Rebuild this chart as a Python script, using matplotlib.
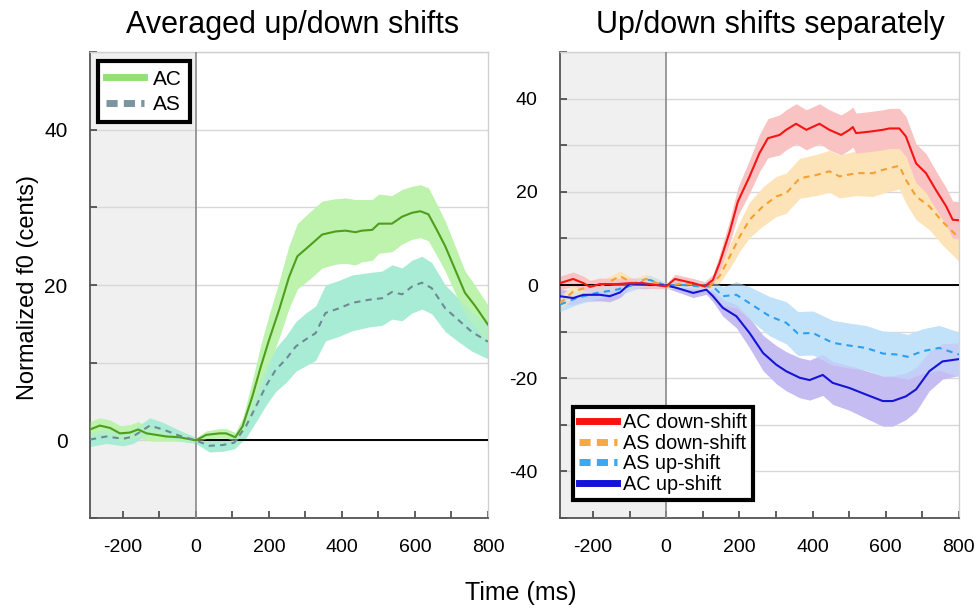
import numpy as np
import matplotlib
matplotlib.use("Agg")
import matplotlib.pyplot as plt
from matplotlib.ticker import MultipleLocator

plt.rcParams['font.family'] = ['Liberation Sans', 'DejaVu Sans']
plt.rcParams['axes.unicode_minus'] = False

# ---- left panel: averaged up/down shifts ----
t_ac = [-290, -263, -235, -208, -181, -158, -135, -108, -81, -45, 0, 28, 65, 83, 108,
        128, 155, 178, 201, 228, 255, 278, 310, 346, 383, 410, 437, 455, 483, 501,
        537, 565, 592, 615, 637, 660, 683, 710, 737, 765, 800]
ac = [1.4, 1.9, 1.6, 0.9, 1.0, 1.4, 0.9, 0.7, 0.5, 0.4, 0.0, 0.7, 0.9, 0.9, 0.4,
      1.8, 5.7, 9.5, 13.0, 16.8, 21.0, 23.7, 25.0, 26.5, 26.9, 27.0, 26.8, 27.0, 27.1, 27.9,
      27.9, 28.8, 29.3, 29.5, 29.1, 27.1, 25.0, 22.0, 19.0, 17.3, 14.9]
ac_err = [1.0, 1.0, 1.0, 1.0, 1.0, 1.0, 0.9, 0.8, 0.6, 0.5, 0.3, 0.5, 0.6, 0.6, 0.6,
          1.0, 2.0, 2.8, 3.2, 3.6, 4.0, 4.2, 4.3, 4.3, 4.2, 4.2, 4.2, 4.0, 3.9, 3.8,
          3.6, 3.5, 3.4, 3.4, 3.4, 3.3, 3.2, 3.0, 2.8, 2.6, 2.5]

t_as = [-290, -245, -199, -172, -126, -90, -45, 0, 37, 74, 105, 137, 165, 192, 219,
        246, 274, 301, 328, 355, 392, 428, 474, 510, 537, 565, 592, 619, 646, 683,
        719, 755, 800]
as_ = [0.1, 0.5, 0.2, 0.5, 1.9, 1.4, 0.6, 0.0, -0.7, -0.6, -0.3, 1.8, 4.4, 7.0, 9.1,
       10.4, 12.1, 13.0, 13.8, 16.4, 17.0, 17.7, 18.1, 18.3, 19.1, 18.8, 19.8, 20.3, 19.6, 17.0,
       15.5, 14.0, 12.7]
as_err = [0.9, 0.9, 0.9, 0.9, 1.0, 0.9, 0.7, 0.4, 0.8, 0.8, 0.8, 1.5, 2.0, 2.5, 2.8,
          3.0, 3.2, 3.4, 3.5, 3.6, 3.6, 3.6, 3.5, 3.5, 3.5, 3.4, 3.4, 3.4, 3.3, 3.0,
          2.8, 2.5, 2.2]

# ---- right panel: up/down shifts separately ----
t_acd = [-290, -254, -226, -208, -181, -135, -99, -63, -26, 0, 24, 46, 74, 105, 128,
         146, 174, 196, 228, 255, 278, 310, 328, 355, 383, 419, 446, 478, 501, 510,
         519, 555, 592, 610, 637, 655, 683, 710, 737, 765, 783, 800]
acd = [0.4, 1.3, 0.4, -0.4, 0.2, 0.2, 0.4, 0.4, 0.0, -0.3, 1.3, 0.9, 0.4, -0.3, 1.1,
       4.7, 11.5, 17.9, 23.3, 28.3, 31.5, 32.2, 33.3, 34.6, 33.3, 34.6, 33.3, 32.2, 33.3, 33.9,
       32.6, 32.9, 33.3, 33.6, 33.6, 31.9, 26.1, 24.0, 20.4, 16.9, 14.0, 13.9]
acd_err = [1.5, 1.5, 1.5, 1.4, 1.3, 1.2, 1.1, 1.0, 0.8, 0.5, 1.0, 1.0, 1.0, 1.0, 1.2,
           1.8, 2.5, 3.0, 3.6, 4.0, 4.2, 4.3, 4.3, 4.3, 4.3, 4.3, 4.3, 4.3, 4.3, 4.3,
           4.3, 4.3, 4.3, 4.3, 4.3, 4.3, 4.2, 4.2, 4.1, 4.0, 4.0, 4.0]

t_asd = [-290, -254, -208, -172, -126, -90, -54, 0, 46, 83, 119, 146, 174, 201, 228,
         265, 301, 328, 365, 410, 446, 474, 519, 565, 592, 637, 655, 683, 719, 755, 800]
asd = [-3.9, -1.4, -0.3, 0.0, 1.9, 0.4, 1.3, -0.3, 0.4, 0.0, -0.3, 1.9, 6.1, 10.4, 14.0,
       16.9, 19.0, 19.7, 22.9, 23.6, 24.4, 23.3, 24.0, 24.0, 24.7, 25.6, 22.6, 19.0, 16.9, 13.6, 10.1]
asd_err = [1.5, 1.4, 1.3, 1.2, 1.1, 1.0, 1.0, 0.6, 0.8, 0.8, 0.9, 1.5, 2.5, 3.2, 3.8,
           4.2, 4.3, 4.3, 4.3, 4.4, 4.5, 4.6, 4.8, 5.0, 5.0, 5.0, 5.0, 5.0, 5.0, 5.0, 5.0]

t_asu = [-290, -245, -190, -135, -90, -45, 0, 46, 92, 128, 155, 192, 228, 283, 328,
         360, 401, 455, 501, 546, 592, 628, 660, 701, 746, 800]
asu = [-4.2, -2.8, -1.7, -1.0, 0.0, 1.1, -0.1, 0.0, -0.3, -0.3, -2.4, -2.1, -3.9, -6.7, -8.1,
       -10.4, -10.3, -12.4, -13.0, -13.5, -14.7, -14.9, -15.4, -14.2, -13.5, -14.9]
asu_err = [1.5, 1.4, 1.3, 1.2, 1.1, 1.0, 0.6, 0.8, 0.9, 1.2, 2.0, 2.8, 3.5, 4.2, 4.5,
           4.7, 4.7, 4.8, 4.8, 4.8, 4.8, 4.8, 4.8, 4.8, 4.8, 4.8]

t_acu = [-290, -254, -226, -181, -154, -126, -99, -54, -26, 0, 28, 74, 110, 128, 155,
         192, 228, 265, 301, 328, 365, 392, 428, 455, 501, 546, 592, 619, 655, 683,
         719, 755, 800]
acu = [-2.4, -2.8, -2.1, -2.1, -2.4, -1.6, 0.3, 0.1, 0.0, -0.1, -0.6, -1.7, -1.0, -2.4, -4.9,
       -6.7, -10.3, -14.6, -17.1, -18.5, -19.9, -20.4, -19.3, -21.0, -22.1, -23.5, -24.9, -24.9, -23.9, -22.4,
       -18.5, -16.4, -15.9]
acu_err = [1.5, 1.5, 1.4, 1.3, 1.2, 1.1, 1.0, 0.9, 0.7, 0.5, 0.8, 1.0, 1.0, 1.2, 1.8,
           2.5, 3.2, 3.8, 4.1, 4.2, 4.3, 4.3, 4.4, 4.6, 4.8, 5.1, 5.4, 5.4, 5.0, 4.7,
           4.2, 3.8, 3.5]


def band(ax, t, y, err, line_col, band_col, ls='-', lw=1.5):
    t = np.array(t)
    y = np.array(y)
    err = np.array(err)
    ax.fill_between(t, y - err, y + err, color=band_col, lw=0, zorder=2)
    ax.plot(t, y, color=line_col, ls=ls, lw=lw, zorder=4,
            dashes=(3, 2.5) if ls == '--' else (None, None))


def style(ax, ylim, ylab_size):
    ax.set_xlim(-290, 800)
    ax.set_ylim(*ylim)
    ax.axvspan(-290, 0, color='#f0f0f0', lw=0, zorder=0)
    ax.axvline(0, color='#8a8a8a', lw=1.2, zorder=3)
    ax.xaxis.set_major_locator(MultipleLocator(200))
    ax.xaxis.set_minor_locator(MultipleLocator(100))
    ax.yaxis.set_major_locator(MultipleLocator(20))
    ax.yaxis.set_minor_locator(MultipleLocator(10))
    ax.grid(True, which='both', axis='y', color='#d8d8d8', lw=1.0, zorder=1)
    ax.set_axisbelow(True)
    ax.tick_params(which='both', direction='in', length=5, width=1.2,
                   color='#444444', top=False, right=False)
    ax.tick_params(axis='x', pad=15, labelsize=14)
    ax.tick_params(axis='y', pad=16, labelsize=ylab_size)
    for s in ['left', 'bottom']:
        ax.spines[s].set_color('#555555')
        ax.spines[s].set_linewidth(1.3)
    for s in ['top', 'right']:
        ax.spines[s].set_color('#d0d0d0')
        ax.spines[s].set_linewidth(1.0)


fig = plt.figure(figsize=(9.8, 6.09), dpi=100)
ax1 = fig.add_axes([0.0918, 0.1494, 0.4061, 0.7652])
ax2 = fig.add_axes([0.5714, 0.1494, 0.4071, 0.7652])

# left
style(ax1, (-10, 50), 15)
ax1.plot([0, 800], [0, 0], color='black', lw=1.4, zorder=3)
band(ax1, t_ac, ac, ac_err, '#4e9e1c', '#bdf3ad')
band(ax1, t_as, as_, as_err, '#6e8993', '#a9ecd6', ls='--')
# blend overlap of the two bands
ax1.fill_between(np.array(t_ac), np.array(ac) - np.array(ac_err), np.array(ac) + np.array(ac_err),
                 color='#bdf3ad', alpha=0.45, lw=0, zorder=3)
h1 = [plt.Line2D([], [], color='#92e078', lw=5),
      plt.Line2D([], [], color='#7b959f', lw=5, ls='--', dashes=(1.6, 0.9))]
leg1 = ax1.legend(h1, ['AC', 'AS'], loc='upper left', bbox_to_anchor=(0.02, 0.98),
                  borderaxespad=0, fancybox=False, framealpha=1, edgecolor='black',
                  fontsize=15, handlelength=1.8, handletextpad=0.45,
                  labelspacing=0.3, borderpad=0.4)
leg1.get_frame().set_linewidth(3)
leg1.set_zorder(10)

# right
style(ax2, (-50, 50), 14)
ax2.axhline(0, color='black', lw=1.4, zorder=3)
band(ax2, t_asu, asu, asu_err, '#2b9ff0', '#c2e2fa', ls='--')
band(ax2, t_acu, acu, acu_err, '#1414d8', '#c5bdf2')
band(ax2, t_asd, asd, asd_err, '#f5a030', '#fce3b8', ls='--')
band(ax2, t_acd, acd, acd_err, '#f41414', '#f9c3c3')
ax2.fill_between(np.array(t_asu), np.array(asu) - np.array(asu_err), np.array(asu) + np.array(asu_err),
                 color='#c2e2fa', alpha=0.5, lw=0, zorder=3)
h2 = [plt.Line2D([], [], color='#f41414', lw=5),
      plt.Line2D([], [], color='#f8a840', lw=5, ls='--', dashes=(1.6, 0.9)),
      plt.Line2D([], [], color='#3aa8f2', lw=5, ls='--', dashes=(1.6, 0.9)),
      plt.Line2D([], [], color='#1414d8', lw=5)]
leg2 = ax2.legend(h2, ['AC down-shift', 'AS down-shift', 'AS up-shift', 'AC up-shift'],
                  loc='lower left', bbox_to_anchor=(0.033, 0.039), borderaxespad=0,
                  fancybox=False, framealpha=1, edgecolor='black', fontsize=14.3,
                  handlelength=1.9, handletextpad=0.3, labelspacing=0.08, borderpad=0.3)
leg2.get_frame().set_linewidth(3)
leg2.set_zorder(10)

fig.text(293 / 980, 1 - 25 / 609, 'Averaged up/down shifts', ha='center', va='center', fontsize=22)
fig.text(770 / 980, 1 - 25 / 609, 'Up/down shifts separately', ha='center', va='center', fontsize=22)
fig.text(28 / 980, 1 - 287 / 609, 'Normalized f0 (cents)', ha='center', va='center',
         rotation=90, fontsize=17)
fig.text(521 / 980, 1 - 593 / 609, 'Time (ms)', ha='center', va='center', fontsize=18)

fig.savefig('out.png', dpi=100)
plt.close(fig)
